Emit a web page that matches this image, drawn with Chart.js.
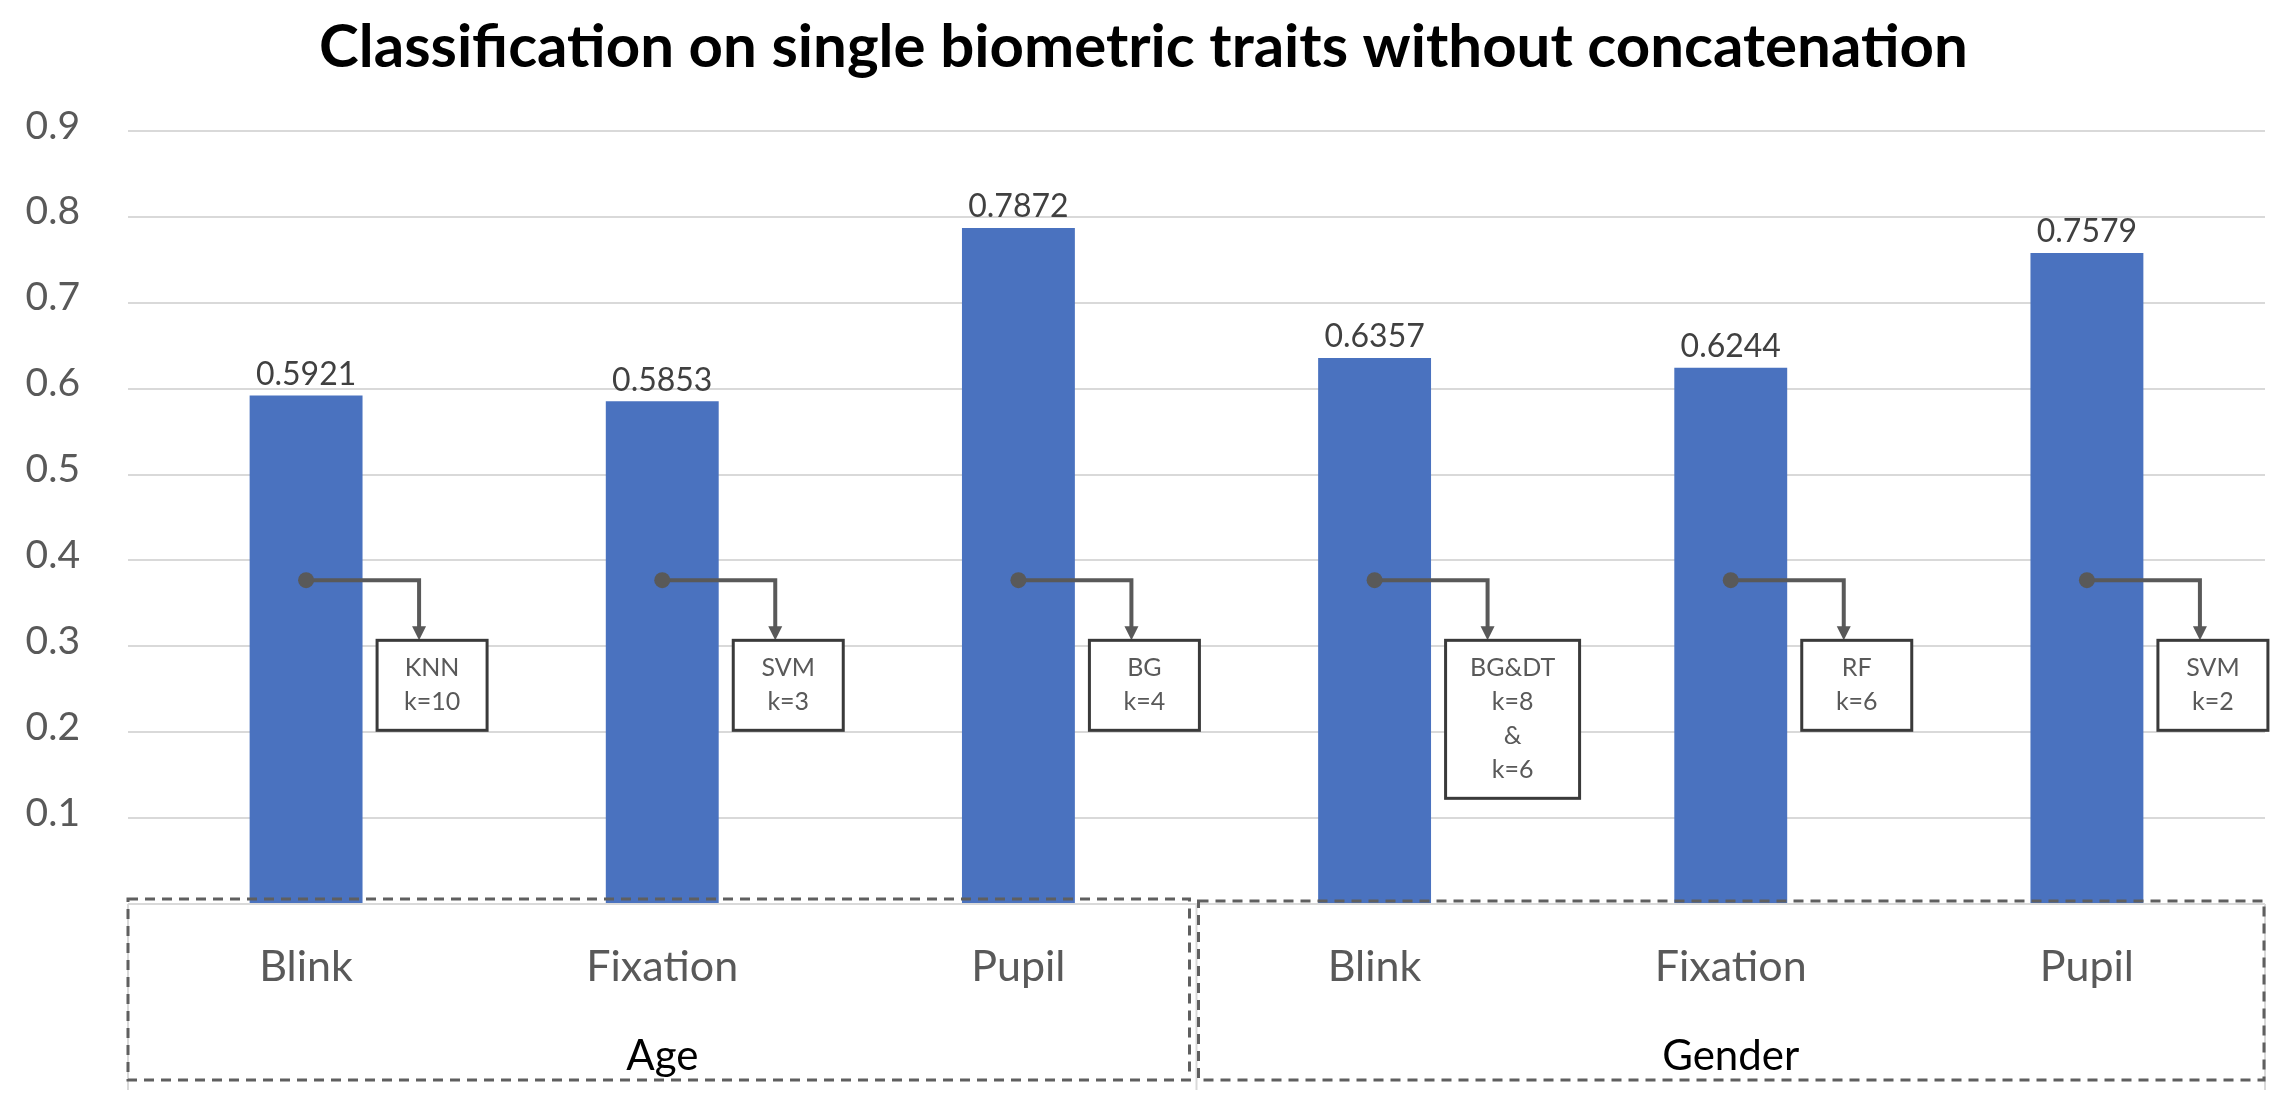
<!DOCTYPE html>
<html>
<head>
<meta charset="utf-8">
<script src="https://cdn.jsdelivr.net/npm/chart.js@4.4.1/dist/chart.umd.min.js"></script>
<style>
  html, body { margin: 0; padding: 0; background: #fff; }
  #wrap { width: 2287px; height: 1101px; }
</style>
</head>
<body>
<div id="wrap"><canvas id="myChart" width="2287" height="1101"></canvas></div>
<script>
const groups = ['Age', 'Gender'];
const traits = ['Blink', 'Fixation', 'Pupil', 'Blink', 'Fixation', 'Pupil'];
const accuracy = [0.5921, 0.5853, 0.7872, 0.6357, 0.6244, 0.7579];
const methods = [
  ['KNN', 'k=10'],
  ['SVM', 'k=3'],
  ['BG', 'k=4'],
  ['BG&DT', 'k=8', '&', 'k=6'],
  ['RF', 'k=6'],
  ['SVM', 'k=2'],
];

const grey = '#595959';

// value printed over each bar
const valueLabels = {
  id: 'valueLabels',
  afterDatasetsDraw(chart) {
    const ctx = chart.ctx;
    const meta = chart.getDatasetMeta(0);
    ctx.save();
    ctx.font = '32px Lato';
    ctx.fillStyle = '#404040';
    ctx.textAlign = 'center';
    ctx.textBaseline = 'middle';
    meta.data.forEach((bar, i) => {
      ctx.fillText(accuracy[i].toFixed(4), bar.x, bar.y - 21);
    });
    ctx.restore();
  },
};

// dot + elbow arrow + box with the best method
const callouts = {
  id: 'callouts',
  afterDatasetsDraw(chart) {
    const ctx = chart.ctx;
    const y = chart.scales.y;
    const meta = chart.getDatasetMeta(0);
    ctx.save();
    meta.data.forEach((bar, i) => {
      const lines = methods[i];
      const cx = bar.x;
      const dotY = y.getPixelForValue(0.377);
      const elbowX = cx + 113;
      const boxTop = y.getPixelForValue(0.307);
      const boxW = lines.length > 2 ? 134 : 110;
      const boxH = 56 + 34 * (lines.length - 1);
      const boxL = cx + 71;

      ctx.strokeStyle = grey;
      ctx.fillStyle = grey;
      ctx.lineWidth = 4;
      ctx.beginPath();
      ctx.moveTo(cx, dotY);
      ctx.lineTo(elbowX, dotY);
      ctx.lineTo(elbowX, boxTop - 12);
      ctx.stroke();
      ctx.beginPath();
      ctx.arc(cx, dotY, 8, 0, Math.PI * 2);
      ctx.fill();
      ctx.beginPath();
      ctx.moveTo(elbowX - 7, boxTop - 14);
      ctx.lineTo(elbowX + 7, boxTop - 14);
      ctx.lineTo(elbowX, boxTop);
      ctx.closePath();
      ctx.fill();

      ctx.fillStyle = '#fff';
      ctx.fillRect(boxL, boxTop, boxW, boxH);
      ctx.strokeStyle = '#3a3a3a';
      ctx.lineWidth = 3;
      ctx.strokeRect(boxL, boxTop, boxW, boxH);

      ctx.fillStyle = grey;
      ctx.font = '25px Lato';
      ctx.textAlign = 'center';
      ctx.textBaseline = 'middle';
      lines.forEach((t, k) => {
        ctx.fillText(t, boxL + boxW / 2, boxTop + 28 + 34 * k);
      });
    });
    ctx.restore();
  },
};

// dashed boxes around each group of categories, with the group names
const groupBoxes = {
  id: 'groupBoxes',
  afterDraw(chart) {
    const ctx = chart.ctx;
    const x = chart.scales.x;
    const y = chart.scales.y;
    const area = chart.chartArea;
    const mid = (x.getPixelForValue(2) + x.getPixelForValue(3)) / 2;
    const base = y.getPixelForValue(0);
    const bottom = 1080;
    ctx.save();

    // faint group separators
    ctx.strokeStyle = '#d9d9d9';
    ctx.lineWidth = 2;
    [area.left, mid, area.right].forEach(px => {
      ctx.beginPath();
      ctx.moveTo(px, base);
      ctx.lineTo(px, bottom + 10);
      ctx.stroke();
    });

    ctx.strokeStyle = '#5f5f5f';
    ctx.lineWidth = 3;
    ctx.setLineDash([10, 7]);
    ctx.strokeRect(area.left, base - 5, mid - 7 - area.left, bottom - base + 5);
    ctx.strokeRect(mid + 2, base - 3, area.right - 1 - mid - 2, bottom - base + 3);
    ctx.setLineDash([]);

    ctx.fillStyle = '#000';
    ctx.font = '42px Lato';
    ctx.textAlign = 'center';
    ctx.textBaseline = 'alphabetic';
    ctx.fillText(groups[0], (area.left + mid) / 2, bottom - 10);
    ctx.fillText(groups[1], (mid + area.right) / 2, bottom - 10);
    ctx.restore();
  },
};

const data = {
  labels: traits,
  datasets: [
    {
      label: 'Accuracy',
      data: accuracy,
      backgroundColor: '#4a72bf',
      borderWidth: 0,
      barPercentage: 0.317,
      categoryPercentage: 1,
    },
  ],
};

const config = {
  type: 'bar',
  data: data,
  options: {
    responsive: false,
    animation: false,
    devicePixelRatio: 1,
    layout: { padding: { left: 22, right: 22, top: 0, bottom: 0 } },
    plugins: {
      legend: { display: false },
      tooltip: { enabled: false },
      title: {
        display: true,
        text: 'Classification on single biometric traits without concatenation',
        color: '#000',
        font: { family: 'Lato', size: 60, weight: 'bold' },
        padding: { top: 12, bottom: 47 },
      },
    },
    scales: {
      x: {
        grid: { display: false },
        border: { display: false },
        ticks: {
          color: grey,
          font: { family: 'Lato', size: 43 },
          padding: 29,
          maxRotation: 0,
        },
        afterFit(scale) { scale.height = 197; },
      },
      y: {
        min: 0,
        max: 0.9,
        border: { display: false },
        grid: { color: '#d9d9d9', lineWidth: 2, drawTicks: false },
        ticks: {
          stepSize: 0.1,
          color: grey,
          font: { family: 'Lato', size: 39 },
          padding: 48,
          labelOffset: -5,
          callback: v => (v === 0 ? '' : v.toFixed(1)),
        },
        afterFit(scale) { scale.width = 106; },
      },
    },
  },
  plugins: [valueLabels, callouts, groupBoxes],
};

const myChart = new Chart(document.getElementById('myChart'), config);
</script>
</body>
</html>
